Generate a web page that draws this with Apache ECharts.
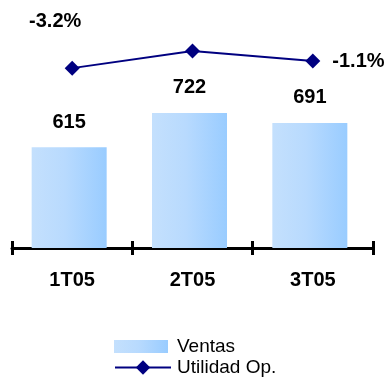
<!DOCTYPE html>
<html>
<head>
<meta charset="utf-8">
<script src="https://cdn.jsdelivr.net/npm/echarts@6/dist/echarts.min.js"></script>
<style>
html,body{margin:0;padding:0;background:#fff;}
#c{width:390px;height:378px;}
</style>
</head>
<body>
<div id="c"></div>
<script>
const categories = ['1T05', '2T05', '3T05'];
const ventas = [615, 722, 691];
const utilidad = [-3.2, 1.9, -1.1];
const utilidadLabels = ['-3.2%', '', '-1.1%'];

const chart = echarts.init(document.getElementById('c'));
const FONT = 'Liberation Sans, Arial, sans-serif';
const barGrad = new echarts.graphic.LinearGradient(0, 0, 1, 0, [
  { offset: 0, color: '#c4e0fd' },
  { offset: 0.45, color: '#b8dafe' },
  { offset: 1, color: '#99ccff' }
]);
const legendBase = {
  orient: 'vertical',
  left: 114,
  padding: 0,
  itemWidth: 54,
  itemHeight: 13
};

chart.setOption({
  animation: false,
  backgroundColor: '#fff',
  grid: [
    { left: 9, right: 20, top: 24, bottom: 130 },
    { left: 12, right: 17, top: 24, bottom: 130 }
  ],
  legend: [
    Object.assign({}, legendBase, {
      top: 337,
      textStyle: { fontFamily: FONT, fontSize: 19, color: '#000', padding: [0, 0, 0, 4] },
      data: [{ name: 'Ventas', icon: 'rect', itemStyle: { color: barGrad } }]
    }),
    Object.assign({}, legendBase, {
      top: 358, itemWidth: 56, itemHeight: 18,
      textStyle: { fontFamily: FONT, fontSize: 19, color: '#000', padding: [0, 0, 0, 1] },
      data: [{ name: 'Utilidad Op.' }]
    })
  ],
  xAxis: [
    { type: 'category', gridIndex: 0, data: categories, show: false },
    {
      type: 'category', gridIndex: 1, data: categories, position: 'bottom',
      axisLine: { onZero: false, lineStyle: { color: '#000', width: 3 } },
      axisTick: { show: true, length: 7, lineStyle: { color: '#000', width: 3 } },
      axisLabel: { margin: 22, fontFamily: FONT, fontSize: 20, fontWeight: 'bold', color: '#000' }
    },
    {
      type: 'category', gridIndex: 1, data: categories, position: 'bottom',
      axisLine: { show: false, onZero: false },
      axisTick: { show: true, inside: true, length: 7, lineStyle: { color: '#000', width: 3 } },
      axisLabel: { show: false }
    }
  ],
  yAxis: [
    { type: 'value', gridIndex: 0, min: 300, max: 1000, show: false },
    { type: 'value', gridIndex: 1, min: -57, max: 10, show: false }
  ],
  series: [
    {
      name: 'Ventas', type: 'bar', xAxisIndex: 0, yAxisIndex: 0,
      data: ventas, barWidth: 75,
      itemStyle: { color: barGrad },
      label: { show: true, position: 'top', distance: 15, fontFamily: FONT, fontSize: 20, fontWeight: 'bold', color: '#000' }
    },
    {
      name: 'Utilidad Op.', type: 'line', xAxisIndex: 1, yAxisIndex: 1,
      data: utilidad.map((v, i) => {
        const item = { value: v };
        if (i === 0) item.label = { show: true, position: 'top', offset: [-17, -24], formatter: utilidadLabels[i] };
        else if (i === 2) item.label = { show: true, position: 'right', distance: 12, formatter: utilidadLabels[i] };
        return item;
      }),
      symbol: 'diamond', symbolSize: 15,
      lineStyle: { color: '#000080', width: 2 },
      itemStyle: { color: '#000080' },
      label: { show: false, fontFamily: FONT, fontSize: 20, fontWeight: 'bold', color: '#000' },
      z: 5
    }
  ]
});
</script>
</body>
</html>
